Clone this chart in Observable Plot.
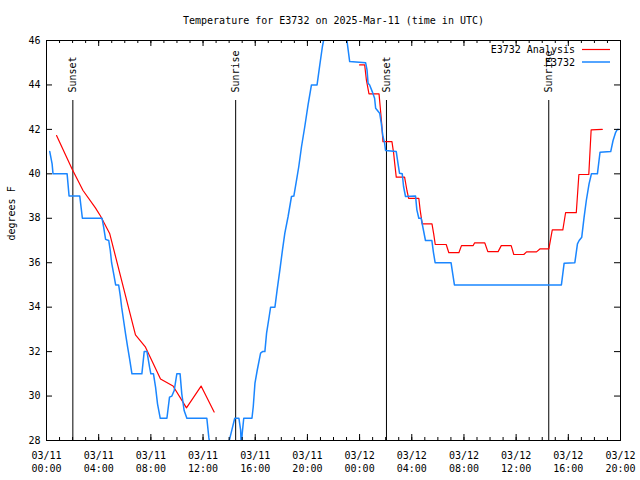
<!DOCTYPE html>
<html><head><meta charset="utf-8">
<script src="https://cdn.jsdelivr.net/npm/d3@7"></script>
<script src="https://cdn.jsdelivr.net/npm/@observablehq/plot@0.6"></script>
<style>body{margin:0;background:#fff}#chart{width:640px;height:480px}</style>
</head><body><div id="chart"></div>
<script>
// ---- text ----
const title = "Temperature for E3732 on 2025-Mar-11 (time in UTC)";
const yLabel = "degrees F";
const obsName = "E3732";
const anaName = "E3732 Analysis";

// ---- observed E3732 (hours since 03/11 00:00 UTC, °F) ----
const obsHours = [0.25,0.43,0.5,1.58,1.73,2.55,2.75,4.26,4.38,4.53,4.77,4.89,4.99,5.15,5.3,5.53,5.66,5.76,5.91,6.06,6.22,6.37,6.55,7.31,7.49,7.7,7.9,8.0,8.2,8.36,8.51,8.72,9.23,9.43,9.61,9.79,9.99,10.24,10.37,10.55,10.76,12.29,12.44,12.6,13.3,13.85,14.01,14.22,14.43,14.75,14.88,14.93,15.0,15.12,15.75,15.85,15.98,16.15,16.41,16.56,16.74,16.87,17.07,17.18,17.51,17.68,17.89,18.09,18.27,18.52,18.78,18.96,19.17,19.34,19.55,19.8,20.05,20.31,20.74,20.95,21.15,21.25,21.6,22.6,23.03,23.24,24.46,24.57,24.65,24.77,24.97,25.15,25.23,25.54,25.66,25.79,25.92,25.99,26.81,26.94,27.06,27.27,27.37,27.52,28.29,28.39,28.54,28.72,28.9,29.05,29.54,29.66,29.79,31.01,31.14,31.27,39.47,39.68,40.5,40.7,40.83,41.03,41.21,41.38,41.59,41.77,42.23,42.43,43.25,43.43,43.63,43.76,43.85];
const obsTemps = [41,40.45,40,40,39,39,38,38,37.6,37.05,37,36.55,36,35.5,35,35,34.5,34,33.4,32.8,32.2,31.67,31,31,32,32,31.3,31,31,30.4,29.65,29,29,29.95,30,30.25,31,31,30.1,29.35,29,29,28.15,27.5,27,27.5,28,28.5,29,29,28.48,27.7,28.3,29,29,29.53,30.58,31.15,31.93,32,32,32.83,33.58,34,34,34.78,35.68,36.58,37.33,38.08,38.98,39,39.73,40.33,41.23,42.13,43.1,44,44,44.9,45.73,46.03,47,47,46,45.05,45,44.68,44.08,44,43.7,43.4,42.95,42.73,42.28,41.68,41.38,41.05,41,40.48,40.03,40,39.43,38.98,39,38.38,38,38,37.45,37,37,36.47,36,36,35.5,35,35,35.98,36,36.85,37,37.15,38.05,38.8,39.55,40,40,40.97,41,41.5,41.87,42,42];

// ---- analysis (null = gap) ----
const anaHours = [0.77,1.96,2.8,3.75,4.14,4.45,4.85,6.82,7.59,8.74,9.7,10.73,11.85,12.85,null,24.0,24.39,24.52,24.72,25.49,25.59,25.69,25.79,26.48,26.61,26.69,26.81,27.45,27.63,27.76,28.54,28.64,28.8,29.55,29.68,29.8,30.64,30.84,31.61,31.81,32.71,32.81,33.6,33.83,34.62,34.86,35.62,35.82,36.59,36.8,37.56,37.82,38.51,38.77,39.58,39.79,40.61,40.81,41.57,41.75,42.6];
const anaTemps = [41.72,40.22,39.25,38.47,38.1,37.75,37.3,32.75,32.2,30.77,30.45,29.47,30.45,29.28,null,44.9,44.9,44.23,43.6,43.6,42.95,42.28,41.45,41.45,40.93,40.48,39.85,39.85,39.25,38.9,38.9,38.38,37.75,37.75,37.3,36.82,36.82,36.45,36.45,36.77,36.77,36.89,36.89,36.5,36.5,36.77,36.77,36.37,36.37,36.49,36.49,36.62,36.62,37.48,37.48,38.25,38.25,39.97,39.97,41.98,42];

// ---- sun events ----
const eventHours = [2.02, 14.5, 26.06, 38.5];
const eventLabels = ["Sunset", "Sunrise", "Sunset", "Sunrise"];

// ---- ticks ----
const yTicks = [28,30,32,34,36,38,40,42,44,46];
const xTicks = [0,4,8,12,16,20,24,28,32,36,40,44];
const xTickLabels = ["03/11\n00:00","03/11\n04:00","03/11\n08:00","03/11\n12:00","03/11\n16:00","03/11\n20:00","03/12\n00:00","03/12\n04:00","03/12\n08:00","03/12\n12:00","03/12\n16:00","03/12\n20:00"];
const xMinor = d3.range(0, 45, 1);

const obs = obsHours.map((h, i) => ({h, t: obsTemps[i]}));
const ana = anaHours.map((h, i) => ({h, t: anaTemps[i]}));
const events = eventHours.map((h, i) => ({h, label: eventLabels[i]}));

const RED = "#ff0000", BLUE = "#1a86ff";
const W = 640, H = 480, mL = 46, mR = 20, mT = 40, mB = 40;
const fw = W - mL - mR, fh = H - mT - mB;

const chart = Plot.plot({
  width: W, height: H,
  marginLeft: mL, marginRight: mR, marginTop: mT, marginBottom: mB,
  style: {fontFamily: "'DejaVu Sans Mono', monospace", fontSize: "10px", color: "black", background: "white"},
  x: {domain: [0, 44]},
  y: {domain: [28, 46]},
  marks: [
    Plot.ruleX(events, {x: "h", insetTop: 60, stroke: "black", strokeWidth: 1}),
    Plot.text(events, {x: "h", text: "label", frameAnchor: "top", dy: 52, rotate: -90, textAnchor: "start", lineAnchor: "middle", fill: "black"}),
    Plot.line(ana, {x: "h", y: "t", stroke: RED, strokeWidth: 1.2, clip: true}),
    Plot.line(obs, {x: "h", y: "t", stroke: BLUE, strokeWidth: 1.5, clip: true}),
    Plot.frame({stroke: "black"}),
    Plot.tickY(yTicks, {y: d => d, insetRight: fw - 6, stroke: "black"}),
    Plot.tickY(yTicks, {y: d => d, insetLeft: fw - 6, stroke: "black"}),
    Plot.tickX(xTicks, {x: d => d, insetTop: fh - 6, stroke: "black"}),
    Plot.tickX(xTicks, {x: d => d, insetBottom: fh - 6, stroke: "black"}),
    Plot.tickX(xMinor, {x: d => d, insetTop: fh - 3, stroke: "black"}),
    Plot.tickX(xMinor, {x: d => d, insetBottom: fh - 3, stroke: "black"}),
    Plot.axisY({ticks: yTicks, tickSize: 0, tickPadding: 6, label: null, fill: "black"}),
    Plot.axisX({ticks: xTicks, tickSize: 0, tickPadding: 10, label: null, lineHeight: 1.25, fill: "black",
      tickFormat: d => xTickLabels[xTicks.indexOf(d)]}),
    Plot.text([title], {frameAnchor: "top", dy: -24, text: d => d, fill: "black"}),
    Plot.text([yLabel], {frameAnchor: "left", dx: -35, rotate: -90, text: d => d, fill: "black"})
  ]
});

// legend (top-right, inside frame)
const svg = d3.select(chart);
const legend = [{name: anaName, color: RED, w: 1.2}, {name: obsName, color: BLUE, w: 1.5}];
legend.forEach((d, i) => {
  const y = mT + 9.5 + i * 12.5;
  svg.append("text").attr("x", 575).attr("y", y).attr("dy", "0.35em")
    .attr("text-anchor", "end").attr("fill", "black")
    .style("font-family", "'DejaVu Sans Mono', monospace").style("font-size", "10px").text(d.name);
  svg.append("line").attr("x1", 582).attr("x2", 610).attr("y1", y).attr("y2", y)
    .attr("stroke", d.color).attr("stroke-width", d.w);
});

document.getElementById("chart").appendChild(chart);
</script>
</body></html>
